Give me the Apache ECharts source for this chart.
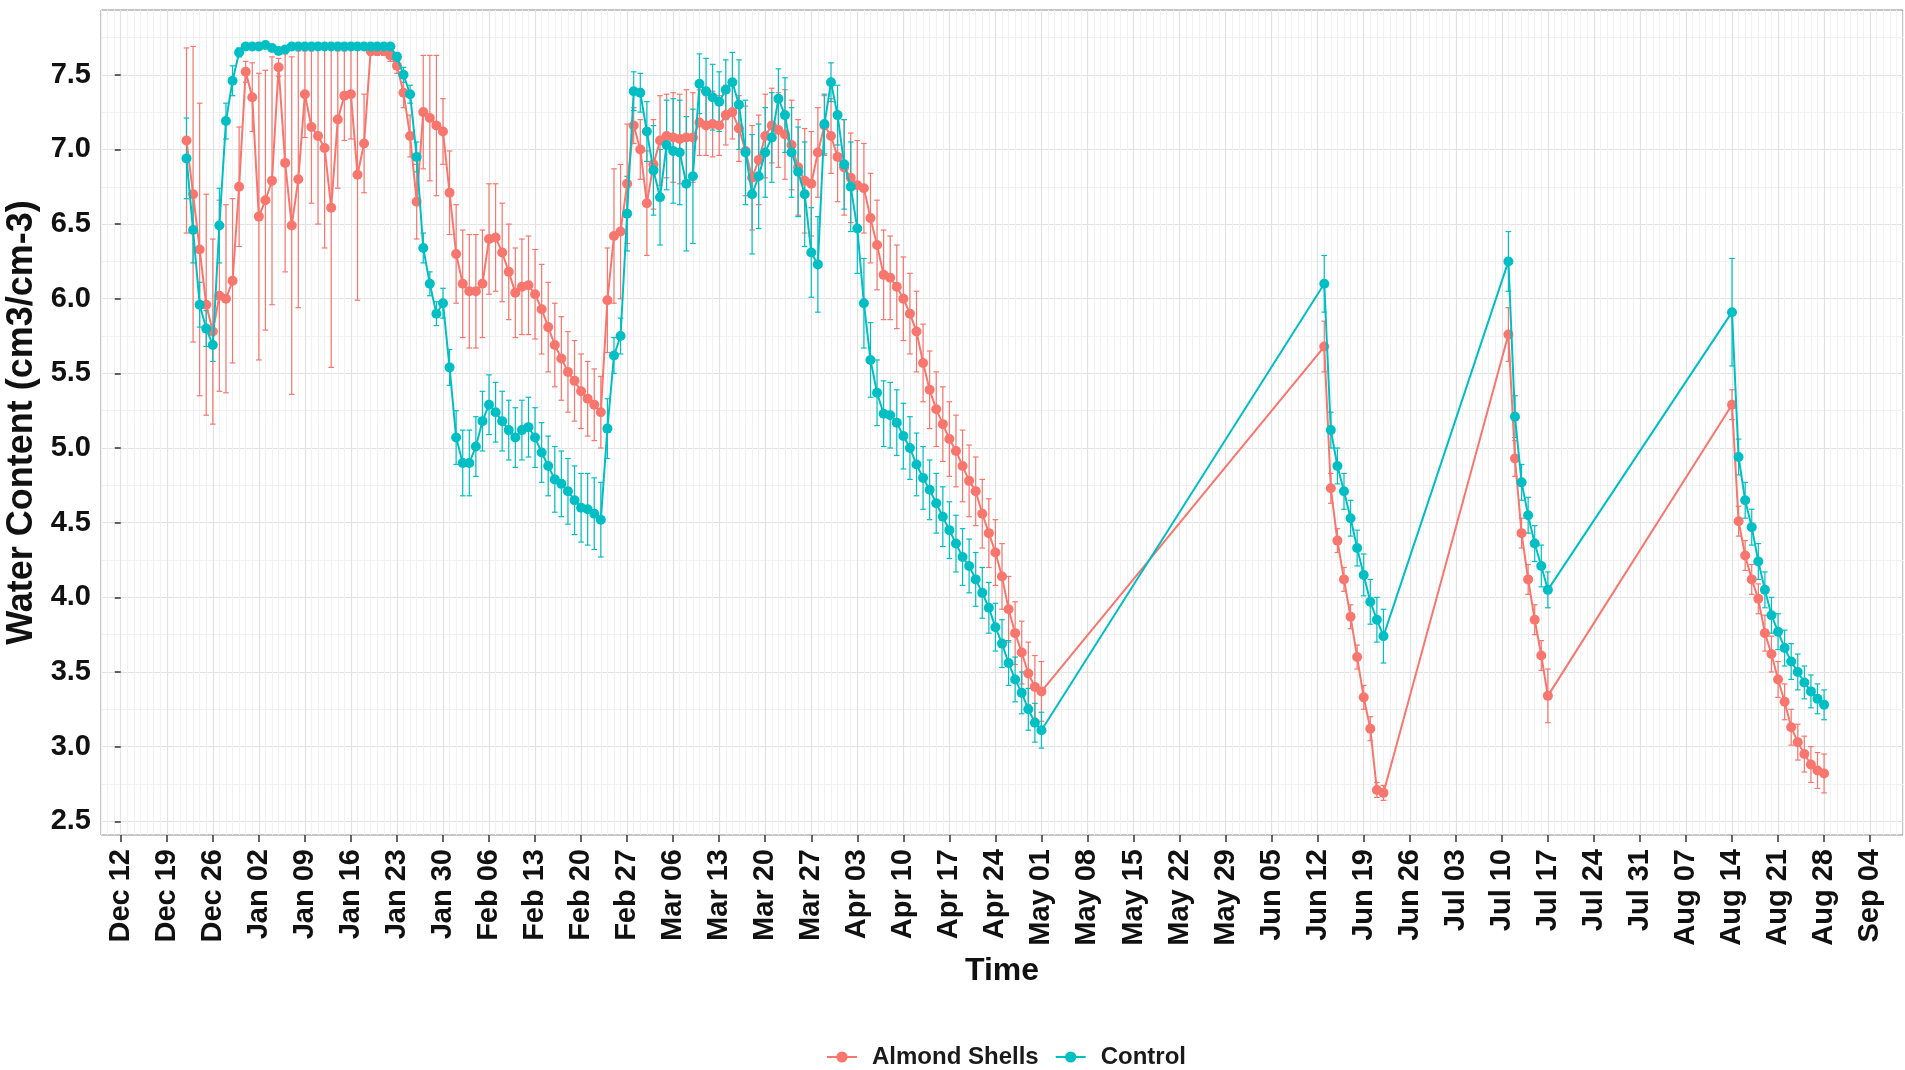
<!DOCTYPE html>
<html>
<head>
<meta charset="utf-8">
<script src="https://cdn.jsdelivr.net/npm/echarts@6/dist/echarts.min.js"></script>
<style>
html,body{margin:0;padding:0;background:#ffffff;}
#chart{width:1905px;height:1070px;}
</style>
</head>
<body>
<div id="chart"></div>
<script>
// ---------------- DATA ----------------
// Days counted from Dec 12 (day 0); measurements are daily inside each run.
const dayRuns = [[10, 140], [183, 192], [211, 217], [245, 259]];

const xTickLabels = ['Dec 12','Dec 19','Dec 26','Jan 02','Jan 09','Jan 16','Jan 23','Jan 30','Feb 06','Feb 13','Feb 20','Feb 27','Mar 06','Mar 13','Mar 20','Mar 27','Apr 03','Apr 10','Apr 17','Apr 24','May 01','May 08','May 15','May 22','May 29','Jun 05','Jun 12','Jun 19','Jun 26','Jul 03','Jul 10','Jul 17','Jul 24','Jul 31','Aug 07','Aug 14','Aug 21','Aug 28','Sep 04'];
const yTickValues = [2.5, 3.0, 3.5, 4.0, 4.5, 5.0, 5.5, 6.0, 6.5, 7.0, 7.5];

const almondShells = [
  // Dec 22 - May 01
  7.06,6.70,6.33,5.96,5.78,6.02,6.00,6.12,6.75,7.52,
  7.35,6.55,6.66,6.79,7.55,6.91,6.49,6.80,7.37,7.15,
  7.09,7.01,6.61,7.20,7.36,7.37,6.83,7.04,7.66,7.66,
  7.66,7.63,7.56,7.38,7.09,6.65,
  7.25,7.21,7.16,7.12,6.71,6.30,6.10,6.05,6.05,6.10,
  6.40,6.41,6.31,6.18,6.04,6.08,6.09,6.03,5.93,5.81,
  5.69,5.60,5.51,5.45,5.38,5.33,5.29,5.24,5.99,6.42,
  6.45,
  6.77,7.16,7.00,6.64,6.90,7.06,7.09,7.08,7.07,7.08,
  7.08,7.18,7.16,7.17,7.16,7.23,7.25,7.14,6.99,6.81,
  6.93,7.09,7.16,7.13,7.10,7.03,6.88,6.79,6.77,6.98,
  7.16,7.09,6.95,6.88,6.81,6.76,6.74,6.54,6.36,6.16,
  6.14,6.08,6.00,5.90,5.78,5.57,5.39,5.26,5.16,5.06,
  4.98,4.88,4.78,4.71,4.56,4.43,4.30,4.14,3.92,3.76,
  3.63,3.49,3.40,3.37,
  // Jun 13 - Jun 22
  5.68,4.73,4.38,4.12,3.87,3.60,3.33,3.12,2.71,2.69,
  // Jul 10 - Jul 17
  5.76,4.93,4.43,4.12,3.85,3.61,3.34,
  // Aug 14 - Aug 28
  5.29,4.51,4.28,4.12,3.99,3.76,3.62,3.45,3.30,3.13,3.03,2.95,2.88,2.84,2.82
];
const almondShellsErr = [
  0.62,0.99,0.98,0.74,0.62,0.64,0.63,0.55,0.40,0.07,
  0.23,0.96,0.87,0.83,0.06,0.73,1.13,0.86,0.29,0.51,
  0.59,0.67,1.07,0.46,0.30,0.30,0.84,0.33,0.03,0.03,
  0.03,0.04,0.05,0.10,0.14,0.25,
  0.38,0.42,0.47,0.22,0.28,0.33,0.36,0.38,0.38,0.36,
  0.37,0.36,0.33,0.32,0.30,0.32,0.33,0.30,0.30,0.30,
  0.28,0.28,0.27,0.27,0.25,0.25,0.24,0.24,0.35,0.45,
  0.45,
  0.40,0.12,0.20,0.35,0.30,0.30,0.28,0.30,0.30,0.32,
  0.30,0.22,0.20,0.22,0.20,0.20,0.18,0.22,0.30,0.35,
  0.30,0.28,0.25,0.25,0.30,0.30,0.32,0.35,0.35,0.30,
  0.20,0.25,0.30,0.32,0.30,0.30,0.30,0.30,0.30,0.30,
  0.28,0.28,0.28,0.27,0.27,0.26,0.26,0.25,0.25,0.25,
  0.24,0.24,0.24,0.23,0.23,0.23,0.22,0.22,0.22,0.21,
  0.21,0.21,0.21,0.20,
  0.17,0.10,0.08,0.08,0.08,0.08,0.08,0.08,0.05,0.05,
  0.18,0.12,0.10,0.10,0.10,0.10,0.18,
  0.10,0.10,0.10,0.10,0.10,0.12,0.12,0.12,0.12,0.12,0.12,0.12,0.12,0.12,0.13
];
const control = [
  6.94,6.46,5.96,5.80,5.69,6.49,7.19,7.46,7.65,7.69,
  7.69,7.69,7.70,7.68,7.66,7.67,7.69,7.69,7.69,7.69,
  7.69,7.69,7.69,7.69,7.69,7.69,7.69,7.69,7.69,7.69,
  7.69,7.69,7.62,7.50,7.37,6.95,
  6.34,6.10,5.90,5.97,5.54,5.07,4.90,4.90,5.01,5.18,
  5.29,5.24,5.18,5.12,5.07,5.12,5.14,5.07,4.97,4.88,
  4.79,4.76,4.71,4.65,4.60,4.59,4.56,4.52,5.13,5.62,
  5.75,
  6.57,7.39,7.38,7.12,6.86,6.68,7.03,6.99,6.98,6.77,
  6.82,7.44,7.39,7.35,7.32,7.40,7.45,7.30,6.98,6.70,
  6.82,6.98,7.08,7.34,7.23,6.98,6.85,6.70,6.31,6.23,
  7.17,7.45,7.23,6.90,6.75,6.47,5.97,5.59,5.37,5.23,
  5.22,5.17,5.08,5.00,4.89,4.80,4.72,4.63,4.54,4.45,
  4.36,4.27,4.21,4.12,4.03,3.93,3.80,3.69,3.56,3.45,
  3.36,3.25,3.16,3.11,
  6.10,5.12,4.88,4.71,4.53,4.33,4.15,3.97,3.85,3.74,
  6.25,5.21,4.77,4.55,4.36,4.21,4.05,
  5.91,4.94,4.65,4.47,4.24,4.05,3.88,3.77,3.66,3.57,3.50,3.43,3.37,3.32,3.28
];
const controlErr = [
  0.27,0.22,0.15,0.12,0.11,0.25,0.12,0.10,0.03,0.02,
  0.02,0.02,0.02,0.02,0.02,0.02,0.02,0.02,0.02,0.02,
  0.02,0.02,0.02,0.02,0.02,0.02,0.02,0.02,0.02,0.02,
  0.02,0.02,0.03,0.05,0.06,0.10,
  0.10,0.08,0.08,0.10,0.12,0.18,0.22,0.22,0.20,0.20,
  0.20,0.20,0.20,0.20,0.20,0.20,0.20,0.20,0.20,0.20,
  0.22,0.22,0.22,0.23,0.23,0.24,0.24,0.25,0.20,0.12,
  0.12,
  0.25,0.13,0.13,0.20,0.30,0.32,0.30,0.35,0.35,0.45,
  0.45,0.20,0.22,0.22,0.20,0.20,0.20,0.30,0.35,0.40,
  0.35,0.30,0.30,0.20,0.25,0.30,0.30,0.35,0.30,0.32,
  0.20,0.13,0.20,0.30,0.30,0.30,0.30,0.25,0.22,0.22,
  0.22,0.22,0.22,0.21,0.21,0.21,0.20,0.20,0.20,0.19,
  0.19,0.19,0.18,0.18,0.17,0.17,0.16,0.16,0.15,0.15,
  0.14,0.14,0.13,0.12,
  0.19,0.12,0.12,0.12,0.12,0.12,0.14,0.15,0.15,0.18,
  0.20,0.14,0.12,0.12,0.12,0.14,0.12,
  0.36,0.12,0.12,0.12,0.12,0.12,0.12,0.12,0.12,0.12,0.12,0.11,0.11,0.10,0.10
];

// ---------------- BUILD ----------------
const days = [];
dayRuns.forEach(([a, b]) => { for (let d = a; d <= b; d++) days.push(d); });

const xTickDays = xTickLabels.map((_, i) => i * 7);
const yMinorValues = [];
for (let v = 2.5; v <= 7.76; v += 0.25) yMinorValues.push(Math.round(v * 100) / 100);

const RED = '#F8766D', CYAN = '#00BFC4';
const FONT = '"Liberation Sans", Arial, Helvetica, sans-serif';
const X_MIN = -3, X_MAX = 271, Y_MIN = 2.408, Y_MAX = 7.934;

function lineData(vals) { return days.map((d, i) => [d, vals[i]]); }
function errData(vals, errs) { return days.map((d, i) => [d, vals[i] - errs[i], vals[i] + errs[i]]); }

function errSeries(name, color, vals, errs) {
  return {
    type: 'custom', name: name, xAxisIndex: 0, yAxisIndex: 0,
    data: errData(vals, errs),
    encode: { x: 0, y: [1, 2] },
    silent: true, z: 3,
    renderItem: function (params, api) {
      const x = api.value(0);
      const p1 = api.coord([x, api.value(1)]);
      const p2 = api.coord([x, api.value(2)]);
      const hw = 2.8;
      const st = { stroke: color, lineWidth: 1.2, fill: null };
      return {
        type: 'group',
        children: [
          { type: 'line', shape: { x1: p1[0], y1: p1[1], x2: p2[0], y2: p2[1] }, style: st },
          { type: 'line', shape: { x1: p1[0] - hw, y1: p1[1], x2: p1[0] + hw, y2: p1[1] }, style: st },
          { type: 'line', shape: { x1: p2[0] - hw, y1: p2[1], x2: p2[0] + hw, y2: p2[1] }, style: st }
        ]
      };
    }
  };
}

function lineSeries(name, color, vals, z) {
  return {
    type: 'line', name: name, xAxisIndex: 0, yAxisIndex: 0,
    data: lineData(vals),
    symbol: 'circle', symbolSize: 10, showSymbol: true,
    lineStyle: { color: color, width: 2 },
    itemStyle: { color: color },
    z: z
  };
}

const chart = echarts.init(document.getElementById('chart'), null, { renderer: 'canvas' });
chart.setOption({
  animation: false,
  backgroundColor: '#ffffff',
  grid: {
    left: 101, top: 10, right: 2, bottom: 235,
    containLabel: false, outerBoundsMode: 'none',
    show: true, backgroundColor: '#ffffff', borderColor: '#8c8c8c', borderWidth: 1
  },
  legend: {
    data: ['Almond Shells', 'Control'],
    left: 826, top: 1045, padding: 0,
    itemWidth: 30, itemHeight: 14, itemGap: 16,
    textStyle: { fontFamily: FONT, fontSize: 24, fontWeight: 'bold', color: '#1a1a1a', padding: [0, 0, 0, 10] }
  },
  xAxis: [
    {
      type: 'value', position: 'bottom', min: X_MIN, max: X_MAX, interval: 1,
      axisLine: { show: false }, axisTick: { show: false }, axisLabel: { show: false },
      splitLine: { show: true, lineStyle: { color: '#f1f1f1', width: 1 } }
    },
    {
      type: 'value', position: 'bottom', min: X_MIN, max: X_MAX,
      axisLine: { show: false },
      axisTick: { show: true, customValues: xTickDays, length: 7, lineStyle: { color: '#333333', width: 1.5 } },
      axisLabel: {
        show: true, customValues: xTickDays, rotate: 90, margin: 14,
        fontFamily: FONT, fontSize: 29, fontWeight: 'bold', color: '#111111',
        formatter: function (v) { return xTickLabels[Math.round(v / 7)]; }
      },
      splitLine: { show: true, lineStyle: { color: '#e2e2e2', width: 1.2 } },
      name: 'Time', nameLocation: 'middle', nameGap: 120,
      nameTextStyle: { fontFamily: FONT, fontSize: 32, fontWeight: 'bold', color: '#111111' }
    }
  ],
  yAxis: [
    {
      type: 'value', position: 'left', min: Y_MIN, max: Y_MAX,
      axisLine: { show: false },
      axisTick: { show: false, customValues: yMinorValues },
      axisLabel: { show: false },
      splitLine: { show: true, lineStyle: { color: '#f1f1f1', width: 1 } }
    },
    {
      type: 'value', position: 'left', min: Y_MIN, max: Y_MAX,
      axisLine: { show: false },
      axisTick: { show: true, customValues: yTickValues, length: 6, lineStyle: { color: '#333333', width: 1.5 } },
      axisLabel: {
        show: true, customValues: yTickValues, margin: 10,
        fontFamily: FONT, fontSize: 29, fontWeight: 'bold', color: '#111111',
        formatter: function (v) { return v.toFixed(1); }
      },
      splitLine: { show: true, lineStyle: { color: '#e2e2e2', width: 1.2 } },
      name: 'Water Content (cm3/cm-3)', nameLocation: 'middle', nameGap: 47, nameRotate: 90,
      nameTextStyle: { fontFamily: FONT, fontSize: 36, fontWeight: 'bold', color: '#111111' }
    }
  ],
  series: [
    lineSeries('Almond Shells', RED, almondShells, 4),
    lineSeries('Control', CYAN, control, 5),
    errSeries('Almond Shells SE', RED, almondShells, almondShellsErr),
    errSeries('Control SE', CYAN, control, controlErr)
  ]
});
</script>
</body>
</html>
